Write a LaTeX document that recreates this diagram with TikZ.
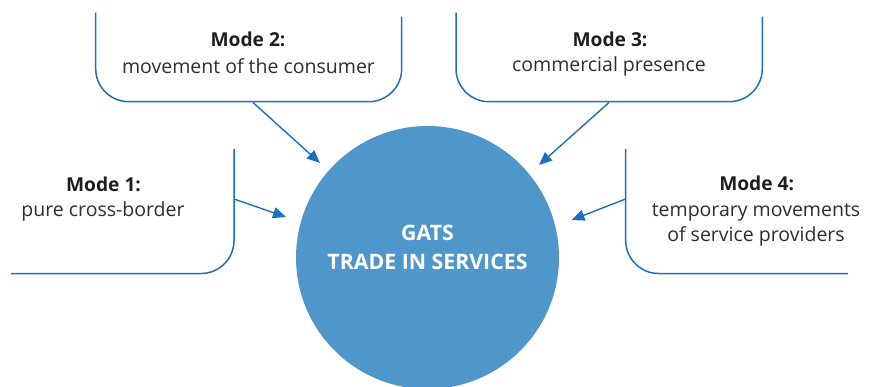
\documentclass[tikz,border=0pt]{standalone}
\usepackage{fontspec}
\setmainfont{Open Sans}
\usetikzlibrary{arrows.meta}
\definecolor{lineblue}{HTML}{1A70C0}
\definecolor{circblue}{HTML}{4F97CB}
\definecolor{txt}{HTML}{1E1E1E}
\definecolor{txtl}{HTML}{2E2E2E}
\tikzset{
  boxline/.style={draw=lineblue, line width=1.5pt, rounded corners=33pt},
  arr/.style={draw=lineblue, line width=1.4pt, -{Triangle[length=13pt,width=11pt]}},
  modetitle/.style={font=\fontsize{19.2}{22}\selectfont\bfseries, text=txt, inner sep=0pt},
  modetext/.style={font=\fontsize{19.5}{25}\selectfont, text=txtl, inner sep=0pt, align=center},
}
\begin{document}
\begin{tikzpicture}[x=1pt,y=-1pt]
\useasboundingbox (0,0) rectangle (869,386);
\clip (0,0) rectangle (869,386);
% central circle
\node[circle, fill=circblue, minimum size=263pt, inner sep=0pt] (gats) at (427.5,257.5) {};
\node[font=\fontsize{21.3}{29}\selectfont\bfseries, text=white, align=center, inner sep=0pt] (gatstext) at (427.5,247.5) {GATS\\TRADE IN SERVICES};
% Mode 2 box
\draw[boxline] (95.7,12.7) -- (95.7,101.7) -- (401.7,101.7) -- (401.7,16.7);
\node[modetitle] (m2t) at (248,39) {Mode 2:};
\node[modetext] (m2x) at (248.5,66) {movement of the consumer};
% Mode 3 box
\draw[boxline] (456,12.7) -- (456,101.7) -- (762.3,101.7) -- (762.3,16.7);
\node[modetitle] (m3t) at (610,39) {Mode 3:};
\node[modetext] (m3x) at (609,66) {commercial presence};
% Mode 1 box
\draw[boxline] (234,149) -- (234,273.5) -- (11,273.5);
\node[modetitle] (m1t) at (103.5,184) {Mode 1:};
\node[modetext] (m1x) at (103,211) {pure cross-border};
% Mode 4 box
\draw[boxline] (625.7,149) -- (625.7,273.5) -- (848,273.5);
\node[modetitle] (m4t) at (756.7,183) {Mode 4:};
\node[modetext] (m4x) at (756,224.5) {temporary movements\\of service providers};
% arrow endpoints
\coordinate (s1) at (234,199);   \coordinate (t1) at (286,217);
\coordinate (s2) at (253,102.5); \coordinate (t2) at (320,163);
\coordinate (s3) at (609,102.5); \coordinate (t3) at (539,165);
\coordinate (s4) at (625.7,199); \coordinate (t4) at (571.5,220);
\draw[arr] (s1) -- (t1);
\draw[arr] (s2) -- (t2);
\draw[arr] (s3) -- (t3);
\draw[arr] (s4) -- (t4);
\end{tikzpicture}
\end{document}
